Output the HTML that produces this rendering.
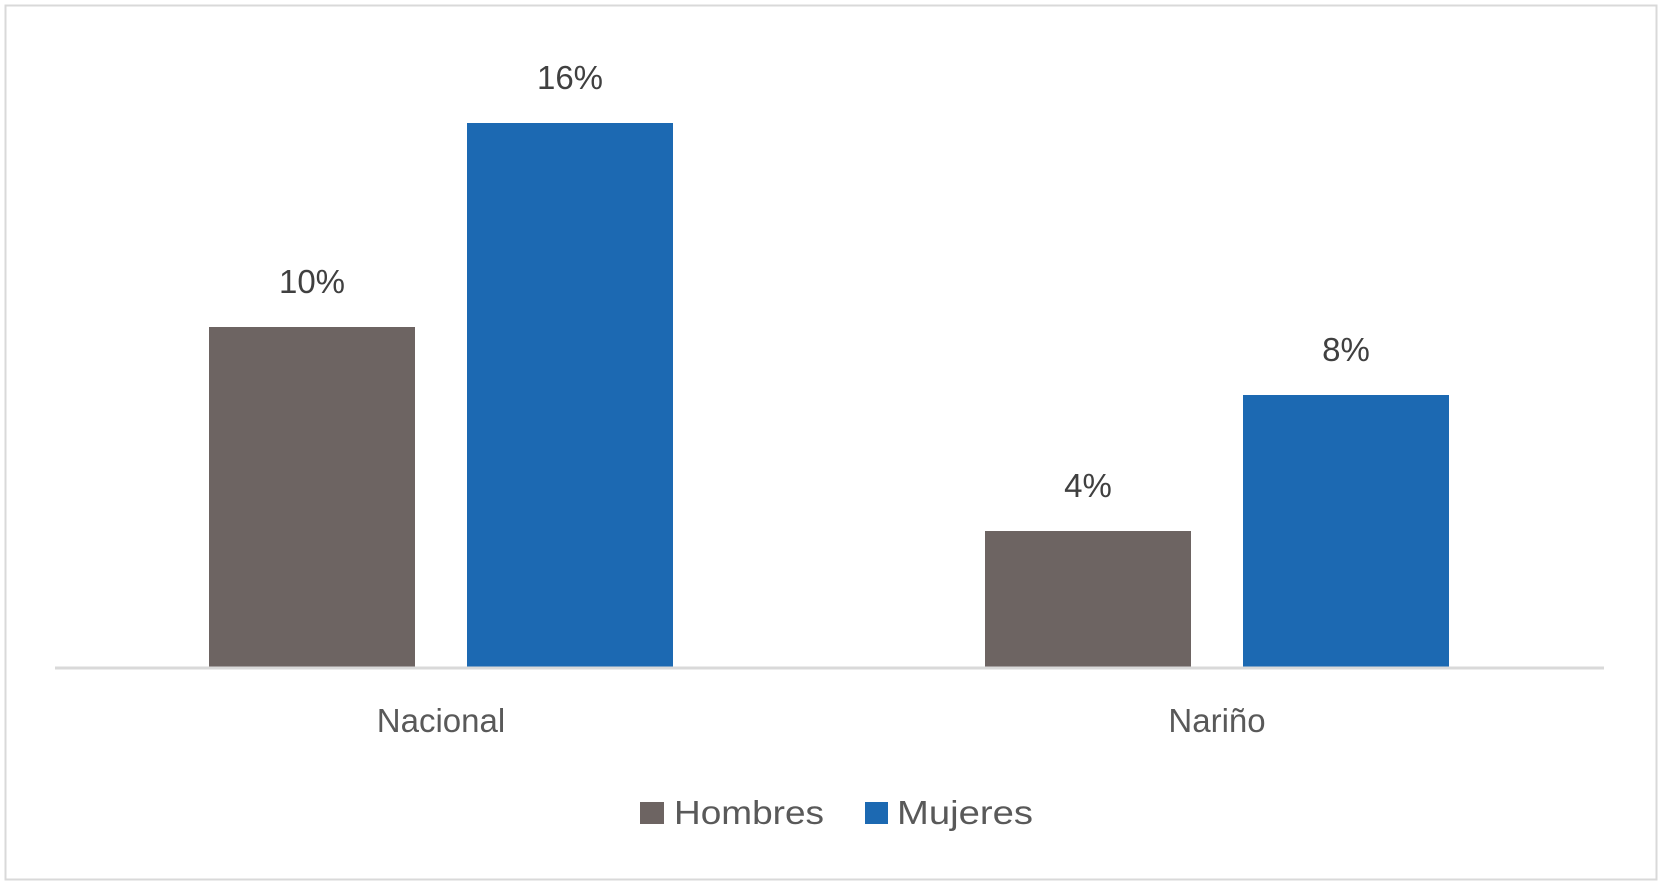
<!DOCTYPE html>
<html><head><meta charset="utf-8"><style>
html,body{margin:0;padding:0;background:#fff;}
svg{display:block;font-family:"Liberation Sans",sans-serif;}
</style></head><body>
<svg id="chart" width="1663" height="889" viewBox="0 0 1663 889" xmlns="http://www.w3.org/2000/svg">
<rect x="5.5" y="5.5" width="1651" height="874" fill="#fff" stroke="#d9d9d9" stroke-width="2"/>
<g id="bars"></g>
<line x1="55" y1="668" x2="1604" y2="668" stroke="#d9d9d9" stroke-width="3"/>
<g id="labels"></g>
<g>
<rect x="640" y="802" width="24" height="22" fill="#6d6462"/>
<text x="674" y="824" font-size="33" fill="#595959" textLength="150" lengthAdjust="spacingAndGlyphs">Hombres</text>
<rect x="865" y="802" width="23" height="22" fill="#1c69b2"/>
<text x="897" y="824" font-size="33" fill="#595959" textLength="136" lengthAdjust="spacingAndGlyphs">Mujeres</text>
</g>
</svg>
<script>
const categories = ["Nacional", "Nariño"];
const hombres = [10, 4];
const mujeres = [16, 8];
const seriesColors = ["#6d6462", "#1c69b2"];
const NS = "http://www.w3.org/2000/svg";
const baseY = 667, pxPerUnit = 34;
const groupCenters = [441, 1217];
const barW = 206, offsets = [-232 + 0, 26];
function yScale(v){ return baseY - v * pxPerUnit; }
const bars = document.getElementById('bars');
const labels = document.getElementById('labels');
const series = [hombres, mujeres];
const seriesNames = ["hombres", "mujeres"];
series.forEach((vals, s) => {
  vals.forEach((v, i) => {
    const x = groupCenters[i] + offsets[s];
    const r = document.createElementNS(NS, 'rect');
    
    
    r.setAttribute('x', x); r.setAttribute('y', yScale(v));
    r.setAttribute('width', barW); r.setAttribute('height', baseY - yScale(v));
    r.setAttribute('fill', seriesColors[s]);
    bars.appendChild(r);
    const t = document.createElementNS(NS, 'text');
    
    
    t.setAttribute('x', x + barW / 2); t.setAttribute('y', yScale(v) - 34);
    t.setAttribute('text-anchor', 'middle'); t.setAttribute('font-size', '33');
    t.setAttribute('fill', '#404040');
    t.textContent = v + '%';
    labels.appendChild(t);
  });
});
categories.forEach((c, i) => {
  const t = document.createElementNS(NS, 'text');
  
  
  t.setAttribute('x', groupCenters[i]); t.setAttribute('y', 732);
  t.setAttribute('text-anchor', 'middle'); t.setAttribute('font-size', '33');
  t.setAttribute('fill', '#595959');
  t.textContent = c;
  labels.appendChild(t);
});
</script>
</body></html>
